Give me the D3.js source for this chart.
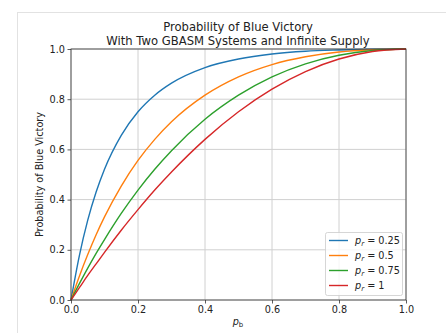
<!DOCTYPE html>
<html>
<head>
<meta charset="utf-8">
<script src="https://cdn.jsdelivr.net/npm/d3@7"></script>
<style>
  body { margin: 0; background: #fff; }
  text { font-family: "DejaVu Sans", sans-serif; fill: #222; }
</style>
</head>
<body>
<svg id="screen" width="446" height="333"></svg>
<script>
// Data
var pb = [0, 0.025, 0.05, 0.075, 0.1, 0.15, 0.2, 0.25, 0.3, 0.4, 0.5, 0.6, 0.7, 0.8, 0.9, 1.0];
var pr025 = [0, 0.177, 0.318, 0.430, 0.521, 0.656, 0.750, 0.816, 0.864, 0.926, 0.960, 0.980, 0.991, 0.996, 0.999, 1];
var pr05  = [0, 0.095, 0.181, 0.260, 0.331, 0.454, 0.556, 0.640, 0.710, 0.816, 0.889, 0.938, 0.969, 0.988, 0.997, 1];
var pr075 = [0, 0.065, 0.127, 0.186, 0.241, 0.345, 0.438, 0.521, 0.595, 0.720, 0.816, 0.889, 0.941, 0.975, 0.994, 1];
var pr1   = [0, 0.049, 0.098, 0.144, 0.190, 0.278, 0.360, 0.438, 0.510, 0.640, 0.750, 0.840, 0.910, 0.960, 0.990, 1];
var seriesLabels = ["0.25", "0.5", "0.75", "1"];
var colors = ["#1f77b4", "#ff7f0e", "#2ca02c", "#d62728"];
var ticks = [0, 0.2, 0.4, 0.6, 0.8, 1.0];

var svg = d3.select("#screen");

// Figure frame
svg.append("rect")
    .attr("x", 17.5).attr("y", 12.5)
    .attr("width", 440).attr("height", 330)
    .attr("fill", "none").attr("stroke", "#e2e2e2");

// Plot box (window.top is reserved, so no bare "top")
var pL = 71, pR = 406, pT = 49, pB = 300;
var x = d3.scaleLinear().domain([0, 1]).range([pL, pR]);
var y = d3.scaleLinear().domain([0, 1]).range([pB, pT]);

// Grid
svg.append("g").selectAll("line").data(ticks).join("line")
    .attr("x1", function(d){ return x(d); }).attr("x2", function(d){ return x(d); })
    .attr("y1", pT).attr("y2", pB)
    .attr("stroke", "#d0d0d0").attr("stroke-width", 1);
svg.append("g").selectAll("line").data(ticks).join("line")
    .attr("y1", function(d){ return y(d); }).attr("y2", function(d){ return y(d); })
    .attr("x1", pL).attr("x2", pR)
    .attr("stroke", "#d0d0d0").attr("stroke-width", 1);

// Curves
var series = [pr025, pr05, pr075, pr1];
var line = d3.line()
    .x(function(d, i){ return x(pb[i]); })
    .y(function(d){ return y(d); })
    .curve(d3.curveMonotoneX);
svg.append("g").selectAll("path").data(series).join("path")
    .attr("d", line)
    .attr("fill", "none")
    .attr("stroke", function(d, i){ return colors[i]; })
    .attr("stroke-width", 1.4);

// Spines
svg.append("rect")
    .attr("x", pL).attr("y", pT)
    .attr("width", pR - pL).attr("height", pB - pT)
    .attr("fill", "none").attr("stroke", "#333").attr("stroke-width", 0.8);

// Axes
var fmt = d3.format(".1f");
var xAxis = svg.append("g").attr("transform", "translate(0," + pB + ")")
    .call(d3.axisBottom(x).tickValues(ticks).tickFormat(fmt).tickSize(3.5).tickPadding(2.5));
var yAxis = svg.append("g").attr("transform", "translate(" + pL + ",0)")
    .call(d3.axisLeft(y).tickValues(ticks).tickFormat(fmt).tickSize(3.5).tickPadding(2.5));
[xAxis, yAxis].forEach(function(a){
    a.select(".domain").remove();
    a.selectAll(".tick line").attr("stroke", "#333").attr("stroke-width", 0.8);
    a.selectAll(".tick text").attr("font-size", 9.7).attr("font-family", "DejaVu Sans").attr("fill", "#222");
});

// Title
svg.append("text").attr("x", 238).attr("y", 31).attr("text-anchor", "middle")
    .attr("font-size", 11.6).text("Probability of Blue Victory");
svg.append("text").attr("x", 238).attr("y", 44.5).attr("text-anchor", "middle")
    .attr("font-size", 11.6).text("With Two GBASM Systems and Infinite Supply");

// Axis labels
var xl = svg.append("text").attr("x", 238).attr("y", 325).attr("text-anchor", "middle").attr("font-size", 9.7);
xl.append("tspan").attr("font-style", "italic").text("p");
xl.append("tspan").attr("font-size", 7).attr("dy", 2).text("b");
svg.append("text")
    .attr("transform", "translate(43," + ((pT + pB) / 2) + ") rotate(-90)")
    .attr("text-anchor", "middle").attr("font-size", 9.7)
    .text("Probability of Blue Victory");

// Legend
var lg = svg.append("g");
lg.append("rect")
    .attr("x", 325.5).attr("y", 232.5).attr("width", 77).attr("height", 63).attr("rx", 2)
    .attr("fill", "#fff").attr("fill-opacity", 0.8).attr("stroke", "#ccc").attr("stroke-width", 0.8);
seriesLabels.forEach(function(lab, i){
    var yy = 240.5 + i * 15;
    lg.append("line").attr("x1", 329).attr("x2", 348).attr("y1", yy).attr("y2", yy)
        .attr("stroke", colors[i]).attr("stroke-width", 1.4);
    var t = lg.append("text").attr("x", 355).attr("y", yy + 3.5).attr("font-size", 9.7);
    t.append("tspan").attr("font-style", "italic").text("p");
    t.append("tspan").attr("font-size", 7).attr("font-style", "italic").attr("dy", 2).text("r");
    t.append("tspan").attr("dy", -2).text(" = " + lab);
});
</script>
</body>
</html>
